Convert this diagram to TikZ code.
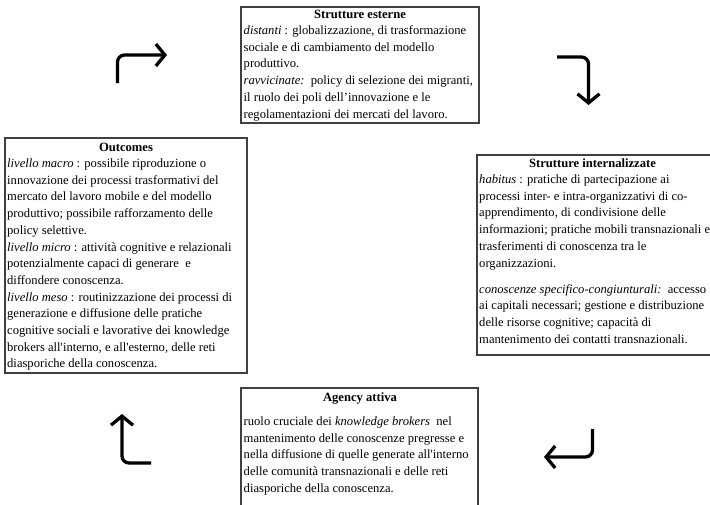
\documentclass[tikz,border=0pt]{standalone}
\usepackage{fontspec}
\setmainfont{Liberation Serif}
\usetikzlibrary{arrows.meta}
\newcommand\dfs{\fontsize{12.6pt}{16.7pt}\selectfont}
\newcommand\bodytext[1]{\parbox[t]{300pt}{\dfs\raggedright #1}}
\begin{document}
\begin{tikzpicture}[x=1pt,y=-1pt,
  box/.style={draw=black!75, line width=1.1pt},
  ttl/.style={font=\dfs\bfseries, anchor=base, inner sep=0pt},
  body/.style={anchor=base west, inner sep=0pt},
  turn/.style={line width=3.3pt, rounded corners=7pt, -{Straight Barb[length=9pt,width=22pt]}}]
\useasboundingbox (0,0) rectangle (710,504);
\clip (0,0) rectangle (710,504);

% Strutture esterne
\draw[box] (241,7) rectangle (479,123);
\node[ttl] (t1) at (360,18) {Strutture esterne};
\node[body] (b1) at (243.5,34.5) {\bodytext{\textit{distanti} : globalizzazione, di trasformazione\\
sociale e di cambiamento del modello\\
produttivo.\\
\textit{ravvicinate:}\ \ policy di selezione dei migranti,\\
il ruolo dei poli dell'innovazione e le\\
regolamentazioni dei mercati del lavoro.}};

% Outcomes
\draw[box] (5,138) rectangle (247,373);
\node[ttl] (t2) at (126,151) {Outcomes};
\node[body] (b2) at (7,167.5) {\bodytext{\textit{livello macro} : possibile riproduzione o\\
innovazione dei processi trasformativi del\\
mercato del lavoro mobile e del modello\\
produttivo; possibile rafforzamento delle\\
policy selettive.\\
\textit{livello micro} : attività cognitive e relazionali\\
potenzialmente capaci di generare\ \ e\\
diffondere conoscenza.\\
\textit{livello meso} : routinizzazione dei processi di\\
generazione e diffusione delle pratiche\\
cognitive sociali e lavorative dei knowledge\\
brokers all\textquotesingle interno, e all\textquotesingle esterno, delle reti\\
diasporiche della conoscenza.}};

% Strutture internalizzate
\draw[box] (477,155) rectangle (715,355);
\node[ttl] (t3) at (592.5,167) {Strutture internalizzate};
\node[body] (b3) at (479,183.5) {\bodytext{\textit{habitus} : pratiche di partecipazione ai\\
processi inter- e intra-organizzativi di co-\\
apprendimento, di condivisione delle\\
informazioni; pratiche mobili transnazionali e\\
trasferimenti di conoscenza tra le\\
organizzazioni.\\[9.3pt]
\textit{conoscenze specifico-congiunturali:}\ \ accesso\\
ai capitali necessari; gestione e distribuzione\\
delle risorse cognitive; capacità di\\
mantenimento dei contatti transnazionali.}};

% Agency attiva
\draw[box] (241,388) rectangle (478,515);
\node[ttl] (t4) at (360,401) {Agency attiva};
\node[body] (b4) at (243.5,425.5) {\bodytext{ruolo cruciale dei \textit{knowledge brokers}\ \ nel\\
mantenimento delle conoscenze pregresse e\\
nella diffusione di quelle generate all\textquotesingle interno\\
delle comunità transnazionali e delle reti\\
diasporiche della conoscenza.}};

% turning arrows
\coordinate (a1s) at (117.5,83);
\coordinate (a1c) at (117.5,55);
\coordinate (a1e) at (167,55);
\draw[turn] (a1s) -- (a1c) -- (a1e);
\coordinate (a2s) at (557,57);
\coordinate (a2c) at (588.5,57);
\coordinate (a2e) at (588.5,105);
\draw[turn] (a2s) -- (a2c) -- (a2e);
\coordinate (a3s) at (592.5,429);
\coordinate (a3c) at (592.5,457);
\coordinate (a3e) at (544,457);
\draw[turn] (a3s) -- (a3c) -- (a3e);
\coordinate (a4s) at (151,463);
\coordinate (a4c) at (122,463);
\coordinate (a4e) at (122,414);
\draw[turn] (a4s) -- (a4c) -- (a4e);
\end{tikzpicture}
\end{document}
